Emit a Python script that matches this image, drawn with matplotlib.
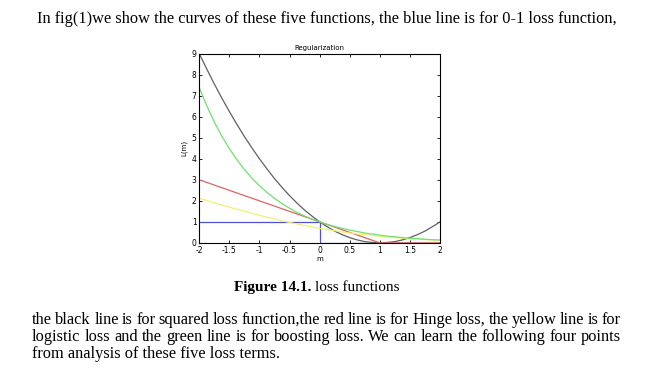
import matplotlib
matplotlib.use("Agg")
import matplotlib.pyplot as plt

m = [-2, -1.875, -1.75, -1.625, -1.5, -1.375, -1.25, -1.125, -1,
     -0.875, -0.75, -0.625, -0.5, -0.375, -0.25, -0.125, 0,
     0.125, 0.25, 0.375, 0.5, 0.625, 0.75, 0.875, 1,
     1.125, 1.25, 1.375, 1.5, 1.625, 1.75, 1.875, 2]
squared = [9, 8.27, 7.56, 6.89, 6.25, 5.64, 5.06, 4.52, 4,
           3.52, 3.06, 2.64, 2.25, 1.89, 1.56, 1.27, 1,
           0.77, 0.56, 0.39, 0.25, 0.14, 0.06, 0.02, 0,
           0.02, 0.06, 0.14, 0.25, 0.39, 0.56, 0.77, 1]
hinge = [3, 2.875, 2.75, 2.625, 2.5, 2.375, 2.25, 2.125, 2,
         1.875, 1.75, 1.625, 1.5, 1.375, 1.25, 1.125, 1,
         0.875, 0.75, 0.625, 0.5, 0.375, 0.25, 0.125, 0,
         0, 0, 0, 0, 0, 0, 0, 0]
logistic = [2.13, 2.02, 1.9, 1.8, 1.7, 1.6, 1.51, 1.41, 1.31,
            1.22, 1.14, 1.05, 0.97, 0.9, 0.83, 0.76, 0.69,
            0.63, 0.58, 0.52, 0.47, 0.43, 0.39, 0.35, 0.31,
            0.28, 0.25, 0.22, 0.2, 0.18, 0.16, 0.14, 0.13]
boosting = [7.39, 6.52, 5.75, 5.08, 4.48, 3.96, 3.49, 3.08, 2.72,
            2.4, 2.12, 1.87, 1.65, 1.45, 1.28, 1.13, 1,
            0.88, 0.78, 0.69, 0.61, 0.54, 0.47, 0.42, 0.37,
            0.32, 0.29, 0.25, 0.22, 0.2, 0.17, 0.15, 0.14]
zero_one_m = [-2, 0, 0, 2]
zero_one = [1, 1, 0, 0]

xticks = [-2, -1.5, -1, -0.5, 0, 0.5, 1, 1.5, 2]
xticklabels = ["-2", "-1.5", "-1", "-0.5", "0", "0.5", "1", "1.5", "2"]

top_line = "In fig(1)we show the curves of these five functions, the blue line is for 0-1 loss function,"
para = [
    "the black line is for squared loss function,the red line is for Hinge loss, the yellow line is for",
    "logistic loss and the green line is for boosting loss.  We can learn the following four points",
    "from analysis of these five loss terms.",
]

serif = "Liberation Serif"

fig = plt.figure(figsize=(6.47, 3.68), dpi=100)
ax = fig.add_axes([0.308, 0.340, 0.372, 0.514])

ax.plot(zero_one_m, zero_one, color="#5050d0", lw=0.9)
ax.plot(m, squared, color="#606060", lw=0.9)
ax.plot(m, hinge, color="#dc6464", lw=0.9)
ax.plot(m, logistic, color="#f2f070", lw=0.9)
ax.plot(m, boosting, color="#70e070", lw=0.9)

ax.set_xlim(-2, 2)
ax.set_ylim(0, 9)
ax.set_xticks(xticks)
ax.set_xticklabels(xticklabels)
ax.set_yticks(range(10))
ax.tick_params(direction="in", length=2, width=0.6, labelsize=5.5, pad=2,
               top=True, right=True)
for s in ax.spines.values():
    s.set_linewidth(0.8)
ax.set_title("Regularization", fontsize=5, pad=3)
ax.set_xlabel("m", fontsize=5, labelpad=1)
ax.set_ylabel("L(m)", fontsize=5, labelpad=3)

fig.canvas.draw()
renderer = fig.canvas.get_renderer()


def justify(words_line, y, x0, x1, size):
    words = words_line.split()
    texts = [fig.text(0, y, w, fontsize=size, family=serif, va="baseline")
             for w in words]
    widths = [t.get_window_extent(renderer).width for t in texts]
    gap = (x1 - x0 - sum(widths)) / (len(words) - 1)
    x = x0
    for t, w in zip(texts, widths):
        t.set_x(x / 647)
        x += w + gap


fs = 11.8
fig.text(37 / 647, 1 - 23 / 368, top_line, fontsize=fs, family=serif, va="baseline")
fig.text(311 / 647, 1 - 291 / 368, "Figure 14.1.", fontsize=11,
         family=serif, weight="bold", va="baseline", ha="right")
fig.text(315 / 647, 1 - 291 / 368, "loss functions", fontsize=11,
         family=serif, va="baseline", ha="left")
justify(para[0], 1 - 324 / 368, 32, 621, fs)
justify(para[1], 1 - 341 / 368, 32, 621, fs)
fig.text(32 / 647, 1 - 358 / 368, para[2], fontsize=fs, family=serif, va="baseline")

fig.savefig("out.png", dpi=100)
